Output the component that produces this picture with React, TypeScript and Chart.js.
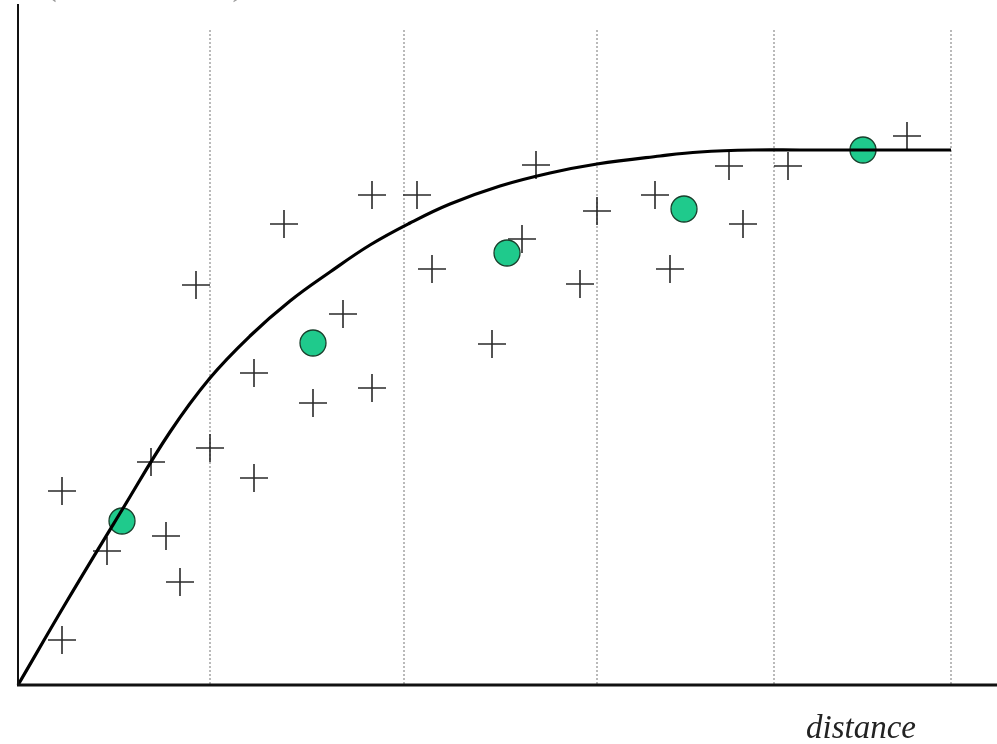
import React, { useEffect, useRef } from "react";
import { Chart, registerables } from "chart.js";

Chart.register(...registerables);

// Experimental semivariogram points (distance, semivariance)
const crossX = [44, 44, 89, 133, 148, 162, 178, 192, 236, 236, 266, 295, 325, 354, 354, 399, 414, 474, 504, 518, 562, 579, 637, 652, 711, 725, 770, 889];
const crossY = [45, 194, 134, 223, 149, 103, 400, 237, 312, 207, 461, 282, 371, 490, 297, 490, 416, 341, 446, 520, 401, 474, 490, 416, 519, 461, 519, 549];

// Binned averages
const binX = [104, 295, 489, 666, 845];
const binY = [164, 342, 432, 476, 535];

// Fitted model curve
const curveX = [0, 49, 104, 152, 192, 232, 272, 312, 352, 392, 432, 482, 532, 579, 642, 682, 735, 782, 933];
const curveY = [0, 84, 175, 253, 307, 349, 384, 413, 440, 462, 481, 499, 512, 521, 529, 533, 535, 535, 535];

// Lag-class boundaries
const lagBounds = [192, 386, 579, 756, 933];
const lagTop = 655;

const X_MAX = 979;
const Y_MAX = 681;

const xTitle = "distance";
const yTitle = "(semivariance)";

export default function App() {
  const ref = useRef<HTMLCanvasElement | null>(null);

  useEffect(() => {
    document.body.style.margin = "0";
    const canvas = ref.current;
    if (!canvas) return;

    const curve = curveX.map((x, i) => ({ x, y: curveY[i] }));
    const crosses = crossX.map((x, i) => ({ x, y: crossY[i] }));
    const bins = binX.map((x, i) => ({ x, y: binY[i] }));

    const lagSets = lagBounds.map((b) => ({
      type: "line" as const,
      data: [
        { x: b, y: lagTop },
        { x: b, y: 0 },
      ],
      borderColor: "#777",
      borderWidth: 1,
      borderDash: [2, 2],
      pointRadius: 0,
      fill: false,
    }));

    const axesPlugin = {
      id: "axesAndText",
      afterDatasetsDraw(chart: any) {
        const { ctx, chartArea } = chart;
        ctx.save();
        ctx.strokeStyle = "#111";
        ctx.lineCap = "butt";
        ctx.lineWidth = 2;
        ctx.beginPath();
        ctx.moveTo(chartArea.left, chartArea.top);
        ctx.lineTo(chartArea.left, chartArea.bottom);
        ctx.stroke();
        ctx.lineWidth = 3;
        ctx.beginPath();
        ctx.moveTo(chartArea.left - 1, chartArea.bottom);
        ctx.lineTo(chartArea.right, chartArea.bottom);
        ctx.stroke();

        ctx.fillStyle = "#222";
        ctx.font = "italic 33px 'Liberation Serif', 'DejaVu Serif', serif";
        ctx.textBaseline = "alphabetic";
        ctx.textAlign = "left";
        ctx.fillText(xTitle, 806, 738);
        ctx.fillStyle = "#999";
        ctx.fillText(yTitle, 48, -5);
        ctx.restore();
      },
    };

    const chart = new Chart(canvas, {
      type: "scatter",
      data: {
        datasets: [
          {
            type: "line",
            data: curve,
            borderColor: "#000",
            borderWidth: 3.2,
            pointRadius: 0,
            tension: 0.4,
            fill: false,
          },
          {
            data: bins,
            pointStyle: "circle",
            pointRadius: 13,
            backgroundColor: "#1fca8c",
            borderColor: "#1a3f2c",
            borderWidth: 1.3,
          },
          {
            data: crosses,
            pointStyle: "cross",
            pointRadius: 14,
            borderColor: "#2a2a2a",
            borderWidth: 1.6,
          },
          ...lagSets,
        ] as any,
      },
      options: {
        animation: false,
        responsive: false,
        layout: { autoPadding: false, padding: { left: 18, top: 4, right: 0, bottom: 59 } },
        plugins: { legend: { display: false }, tooltip: { enabled: false } },
        scales: {
          x: { type: "linear", min: 0, max: X_MAX, display: false },
          y: { type: "linear", min: 0, max: Y_MAX, display: false },
        },
        elements: { point: { hoverRadius: 0 } },
        clip: false as any,
      } as any,
      plugins: [axesPlugin],
    });

    return () => chart.destroy();
  }, []);

  return (
    <div style={{ position: "fixed", left: 0, top: 0, width: 997, height: 744, background: "#fff" }}>
      <canvas ref={ref} width={997} height={744} />
    </div>
  );
}
